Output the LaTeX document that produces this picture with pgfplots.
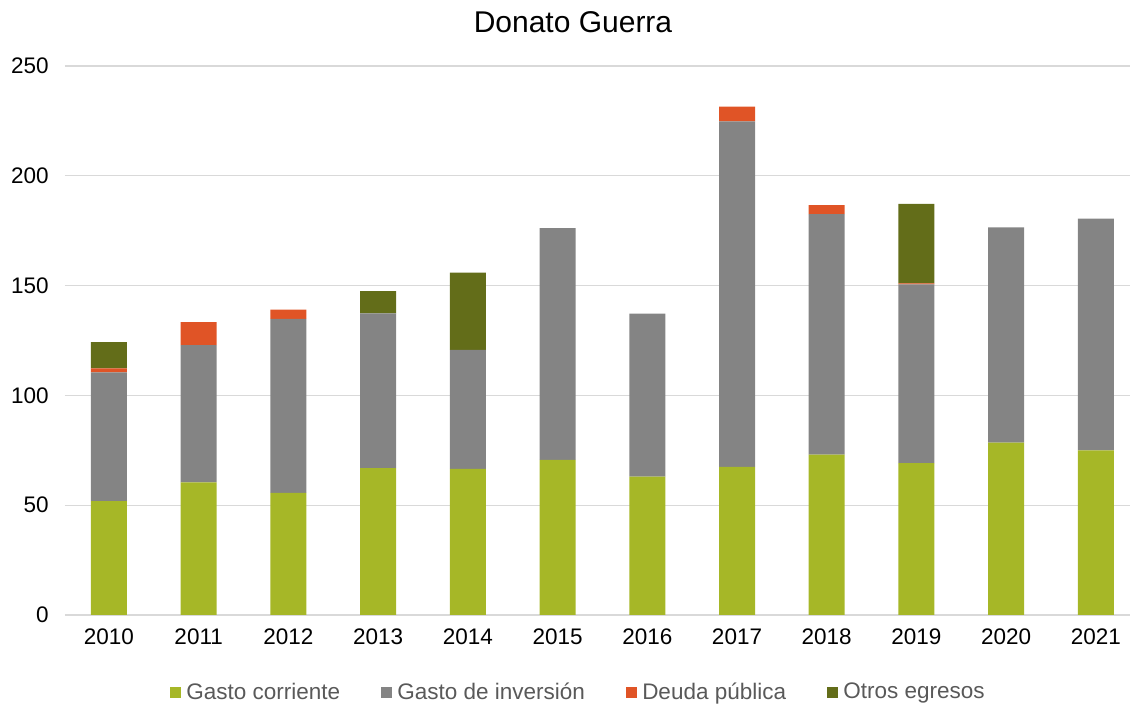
\documentclass[border=0pt]{standalone}
\usepackage{pgfplots}
\pgfplotsset{compat=1.18}
\usepackage{fontspec}
\setmainfont{Liberation Sans}
\definecolor{cG}{HTML}{A6B727}
\definecolor{cI}{HTML}{848484}
\definecolor{cD}{HTML}{E05426}
\definecolor{cO}{HTML}{636D19}
\definecolor{gridc}{HTML}{D9D9D9}
\definecolor{txt}{HTML}{000000}
\definecolor{legtxt}{HTML}{595959}
\begin{document}
\begin{tikzpicture}
\begin{axis}[
  at={(0,0)}, anchor=south west,
  scale only axis,
  width=426pt, height=219.6pt,
  ybar stacked, bar width=14.4pt,
  xmin=-0.49, xmax=11.38, ymin=0, ymax=250,
  xtick={0,...,11},
  xticklabels={2010,2011,2012,2013,2014,2015,2016,2017,2018,2019,2020,2021},
  ytick={0,50,100,150,200,250},
  xmajorgrids=false,
  ymajorgrids=true, grid style={draw=gridc, line width=0.5pt},
  axis line style={draw=none},
  major tick length=0pt,
  tick label style={font=\fontsize{9}{11}\selectfont, text=txt},
  /pgf/number format/assume math mode=true,
  xticklabel style={yshift=-2pt},
  yticklabel style={xshift=-3pt},
  legend style={at={(206pt,-31.2pt)}, anchor=center, draw=none, fill=none,
    font=\fontsize{9}{11}\selectfont, text=legtxt, legend columns=4,
    /tikz/every even column/.append style={column sep=14.5pt}},
  legend cell align=left,
  legend image code/.code={\fill[#1] (0pt,-2.2pt) rectangle (4.4pt,2.2pt);},
]
\addplot[fill=cG, draw=none] coordinates {(0,51.8) (1,60.4) (2,55.6) (3,66.9) (4,66.5) (5,70.6) (6,63.0) (7,67.4) (8,73.0) (9,69.2) (10,78.5) (11,75.0)};
\addplot[fill=cI, draw=none] coordinates {(0,58.7) (1,62.5) (2,79.2) (3,70.5) (4,54.2) (5,105.6) (6,74.2) (7,157.4) (8,109.5) (9,81.4) (10,98.0) (11,105.5)};
\addplot[fill=cD, draw=none] coordinates {(0,1.8) (1,10.5) (2,4.3) (3,0) (4,0) (5,0) (6,0) (7,6.7) (8,4.1) (9,0.4) (10,0) (11,0)};
\addplot[fill=cO, draw=none] coordinates {(0,12.0) (1,0) (2,0) (3,10.1) (4,35.2) (5,0) (6,0) (7,0) (8,0) (9,36.2) (10,0) (11,0)};
\legend{Gasto corriente, Gasto de inversión, Deuda pública, Otros egresos}
\draw[draw=gridc, line width=0.5pt] (axis cs:-0.49,0) -- (axis cs:11.38,0);
\end{axis}
\node[font=\fontsize{12}{14}\selectfont] at (203.2pt,237.2pt) {Donato Guerra};
\pgfresetboundingbox
\useasboundingbox (-26pt,-37.6pt) rectangle (427.6pt,246pt);
\end{tikzpicture}
\end{document}
